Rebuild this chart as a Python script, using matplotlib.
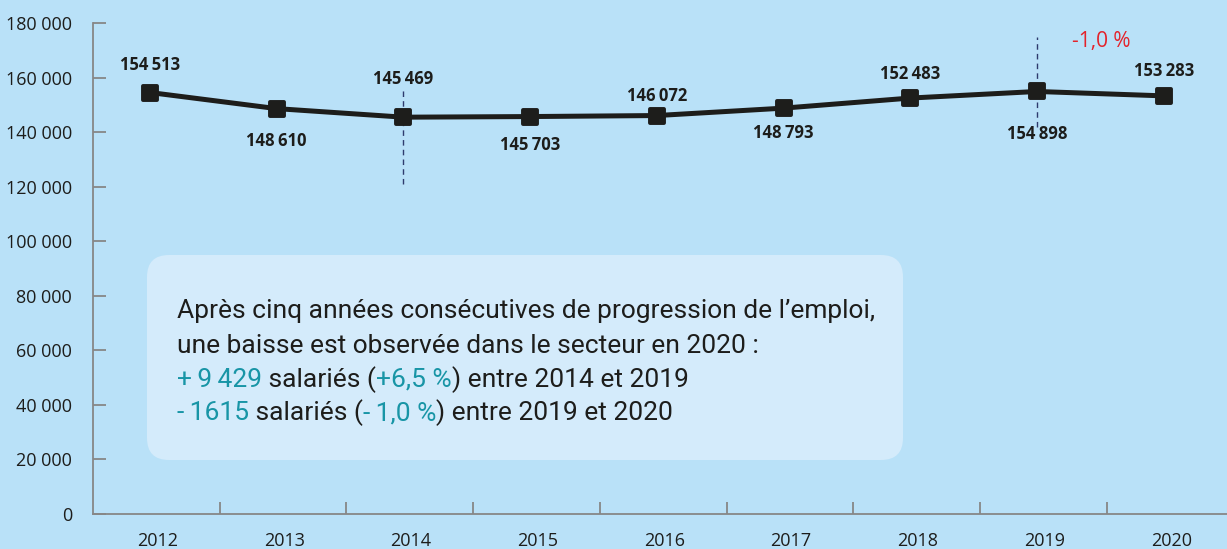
import matplotlib
matplotlib.use("Agg")
import matplotlib.pyplot as plt
from matplotlib.patches import FancyBboxPatch
from matplotlib.markers import MarkerStyle
from matplotlib.ticker import FuncFormatter, FixedLocator
from matplotlib.transforms import IdentityTransform

# data
years = [2012, 2013, 2014, 2015, 2016, 2017, 2018, 2019, 2020]
salaries = [154513, 148610, 145469, 145703, 146072, 148793, 152483, 154898, 153283]
label_pos = ["above", "below", "above", "below", "above", "below", "above", "below", "above"]
label_gap_px = [28, 32, 38, 28, 20, 25, 24, 43, 25]
y_ticks = [0, 20000, 40000, 60000, 80000, 100000, 120000, 140000, 160000, 180000]

# dashed markers around 2014 and 2019
dash_years = [2014, 2019]
dash_low = [121000, 141700]
dash_high = [156000, 174700]

box_lines = [
    [("Après cinq années consécutives de progression de l’emploi,", "dark")],
    [("une baisse est observée dans le secteur en 2020 :", "dark")],
    [("+\u20099\u2009429", "teal"), (" salariés (", "dark"), ("+6,5 %", "teal"), (") entre 2014 et 2019", "dark")],
    [("-\u20091615", "teal"), (" salariés (", "dark"), ("-\u20091,0 %", "teal"), (") entre 2019 et 2020", "dark")],
]

BG = "#b9e1f8"
BOX = "#d4ebfb"
INK = "#1d1d1b"
TEAL = "#1895a6"
RED = "#e3232b"
GREY = "#878787"
NAVY = "#2e3b6e"
COLORS = {"dark": INK, "teal": TEAL}

plt.rcParams["font.family"] = ["Open Sans", "DejaVu Sans"]

W, H = 1227, 549
fig = plt.figure(figsize=(W / 100, H / 100), dpi=100, facecolor=BG)
ax = fig.add_axes([93 / W, 35 / H, (W - 93) / W, 491 / H])
ax.set_facecolor(BG)
ax.set_xlim(2011.55, 2020.5)
ax.set_ylim(0, 180000)

for s in ["top", "right"]:
    ax.spines[s].set_visible(False)
for s in ["left", "bottom"]:
    ax.spines[s].set_color(GREY)
    ax.spines[s].set_linewidth(1.3)

ax.yaxis.set_major_locator(FixedLocator(y_ticks))
ax.yaxis.set_major_formatter(FuncFormatter(lambda v, p: f"{int(v):,}".replace(",", " ")))
ax.tick_params(axis="y", direction="in", length=9, width=1.3, color=GREY,
               labelsize=13, labelcolor=INK, pad=15)

ax.set_xticks([y + 0.06 for y in years])
ax.set_xticklabels([str(y) for y in years])
ax.set_xticks([y + 0.55 for y in years[:-1]], minor=True)
ax.tick_params(axis="x", which="major", length=0, labelsize=13, labelcolor=INK, pad=13)
ax.tick_params(axis="x", which="minor", direction="in", length=9, width=1.3, color=GREY)

# dashed guides
for x, lo, hi in zip(dash_years, dash_low, dash_high):
    ax.plot([x, x], [lo, hi], color=NAVY, lw=1, ls=(0, (4, 3)), zorder=2)

# main line
ax.plot(years, salaries, color=INK, lw=3.6, zorder=3, solid_capstyle="round")
ax.plot(years, salaries, ls="none", marker=MarkerStyle("s", joinstyle="round"),
        ms=10.5, mfc=INK, mec=INK, mew=2.8, zorder=4)

for x, v, pos, gap in zip(years, salaries, label_pos, label_gap_px):
    dy = gap * 0.72 if pos == "above" else -gap * 0.72
    ax.annotate(f"{v:,}".replace(",", "\u2009"), (x, v), xytext=(0, dy),
                textcoords="offset points", ha="center", va="center",
                fontsize=12, fontweight="bold", color=INK, zorder=5)

ax.annotate("-1,0 %", (2019, salaries[-2]), xytext=(46, 36),
            textcoords="offset points", ha="center", va="center",
            fontsize=15, color=RED)

# text box in pixel coordinates
box = FancyBboxPatch((147, H - 460), 756, 205, boxstyle="round,pad=0,rounding_size=22",
                     transform=IdentityTransform(), facecolor=BOX, edgecolor="none", zorder=1)
fig.patches.append(box)
box.set_figure(fig)

renderer = fig.canvas.get_renderer()
line_y = [H - 311, H - 346, H - 380, H - 413]
for ly, parts in zip(line_y, box_lines):
    x = 177
    for txt, c in parts:
        t = fig.text(x, ly, txt, transform=IdentityTransform(), ha="left", va="center",
                     fontsize=19, color=COLORS[c], family=["Roboto", "DejaVu Sans"])
        x += t.get_window_extent(renderer).width

fig.savefig("out.png", dpi=100, facecolor=BG)
